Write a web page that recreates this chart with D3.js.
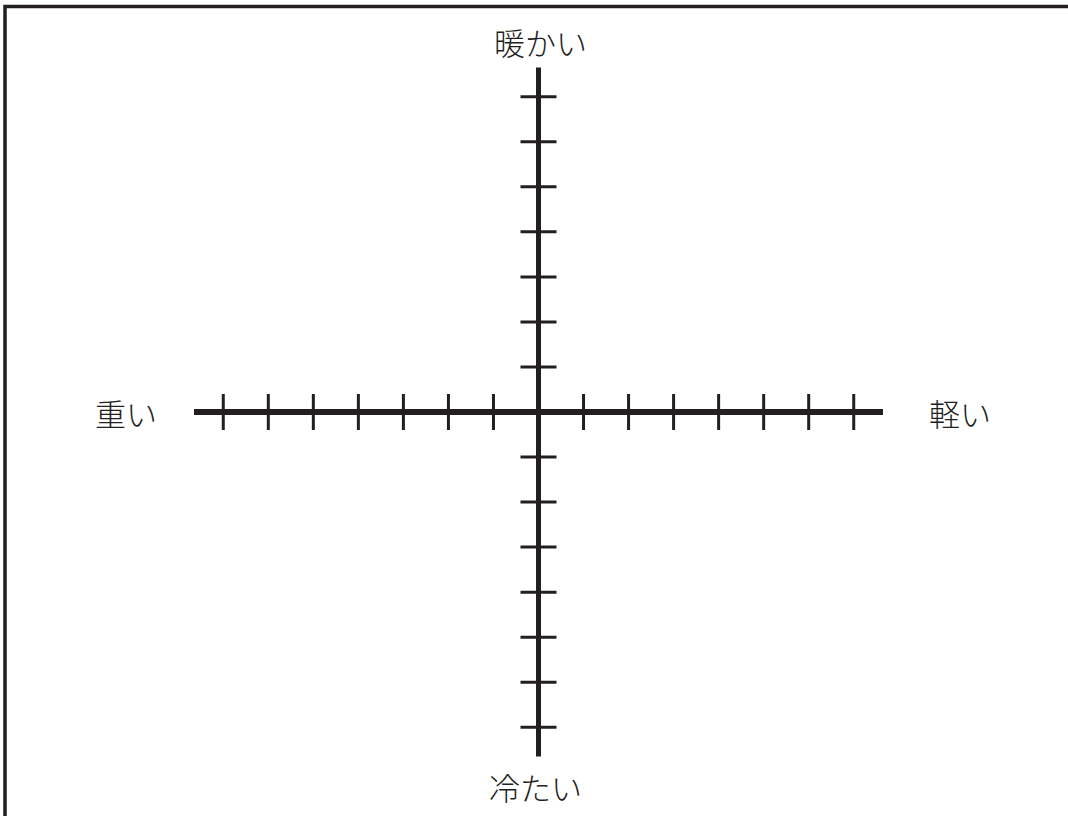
<!DOCTYPE html>
<html>
<head>
<meta charset="utf-8">
<script src="https://cdn.jsdelivr.net/npm/d3@7"></script>
<style>
  html, body { margin: 0; padding: 0; background: #fff; }
  svg { display: block; }
  text { font-family: "Noto Sans CJK JP", "Noto Sans", sans-serif; fill: #231f20; }
</style>
</head>
<body>
<svg id="chart" width="1068" height="816"></svg>
<script>
"use strict";

// axis labels (top, bottom, left, right)
var labelTop = '暖かい';
var labelBottom = '冷たい';
var labelLeft = '重い';
var labelRight = '軽い';

// tick positions along each axis, in units from the centre
var xTicks = [-7, -6, -5, -4, -3, -2, -1, 1, 2, 3, 4, 5, 6, 7];
var yTicks = [-7, -6, -5, -4, -3, -2, -1, 1, 2, 3, 4, 5, 6, 7];
var axisExtent = [-7.65, 7.65];

var svg = d3.select('#chart');
var ink = '#231f20';

// frame: only the top and left edges are visible
svg.append('rect')
    .attr('x', 5).attr('y', 6.5)
    .attr('width', 1200).attr('height', 1000)
    .attr('fill', 'none')
    .attr('stroke', ink)
    .attr('stroke-width', 3.5);

var x = d3.scaleLinear().domain(axisExtent).range([194, 883]);
var y = d3.scaleLinear().domain(axisExtent).range([756.5, 67.5]);
var tickHalf = 18;

var g = svg.append('g').attr('class', 'cross');

// horizontal axis
g.append('line')
    .attr('x1', x(axisExtent[0])).attr('x2', x(axisExtent[1]))
    .attr('y1', y(0)).attr('y2', y(0))
    .attr('stroke', ink).attr('stroke-width', 6);
g.selectAll('line.xtick').data(xTicks).enter().append('line')
    .attr('class', 'xtick')
    .attr('x1', function (d) { return x(d); })
    .attr('x2', function (d) { return x(d); })
    .attr('y1', y(0) - tickHalf).attr('y2', y(0) + tickHalf)
    .attr('stroke', ink).attr('stroke-width', 3);

// vertical axis
g.append('line')
    .attr('x1', x(0)).attr('x2', x(0))
    .attr('y1', y(axisExtent[0])).attr('y2', y(axisExtent[1]))
    .attr('stroke', ink).attr('stroke-width', 5);
g.selectAll('line.ytick').data(yTicks).enter().append('line')
    .attr('class', 'ytick')
    .attr('x1', x(0) - tickHalf).attr('x2', x(0) + tickHalf)
    .attr('y1', function (d) { return y(d); })
    .attr('y2', function (d) { return y(d); })
    .attr('stroke', ink).attr('stroke-width', 3);

// labels
function label(txt, px, py, anchor) {
    svg.append('text')
        .attr('x', px).attr('y', py)
        .attr('text-anchor', anchor)
        .attr('dominant-baseline', 'central')
        .style('font-size', '31px')
        .style('font-weight', 300)
        .text(txt);
}
label(labelTop, x(0) + 2, 41.5, 'middle');
label(labelBottom, x(0) - 3, 786, 'middle');
label(labelLeft, 157, y(0), 'end');
label(labelRight, 929, y(0), 'start');
</script>
</body>
</html>
